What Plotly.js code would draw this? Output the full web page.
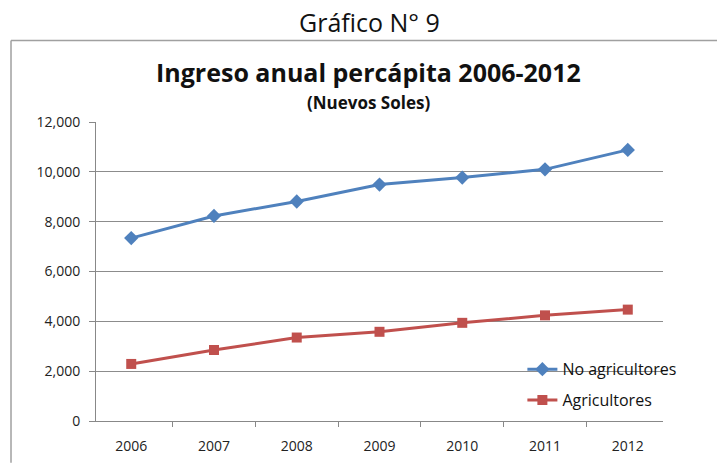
<!DOCTYPE html>
<html>
<head>
<meta charset="utf-8">
<script src="https://cdn.plot.ly/plotly-3.0.1.min.js"></script>
<style>html,body{margin:0;padding:0;background:#fff;overflow:hidden;}#chart{width:717px;height:465px;overflow:hidden;}</style>
</head>
<body>
<div id="chart"></div>
<script>
const years = ['2006','2007','2008','2009','2010','2011','2012'];
const noAgricultores = [7340, 8230, 8810, 9490, 9770, 10100, 10880];
const agricultores = [2290, 2850, 3350, 3580, 3940, 4240, 4470];
const yTicks = [0, 2000, 4000, 6000, 8000, 10000, 12000];
const yTickText = ['0', '2,000', '4,000', '6,000', '8,000', '10,000', '12,000'];

const font = 'Open Sans, Liberation Sans, Arial, sans-serif';

const traces = [
  {
    x: years, y: noAgricultores, name: 'No agricultores', type: 'scatter', mode: 'lines+markers',
    legendgroup: 'a',
    line: {color: '#4F81BD', width: 3},
    marker: {symbol: 'diamond', size: 11, color: '#4F81BD'}
  },
  {
    x: years, y: agricultores, name: 'Agricultores', type: 'scatter', mode: 'lines+markers',
    legendgroup: 'b',
    line: {color: '#C0504D', width: 3},
    marker: {symbol: 'square', size: 10, color: '#C0504D'}
  }
];

const layout = {
  width: 717, height: 465,
  margin: {l: 96, r: 54, t: 122, b: 44},
  paper_bgcolor: '#fff', plot_bgcolor: '#fff',
  font: {family: font, color: '#222', size: 14},
  showlegend: true,
  legend: {x: 0.752, y: 0.23, xanchor: 'left', yanchor: 'top', bgcolor: 'rgba(0,0,0,0)',
           font: {family: font, size: 16, color: '#111'}, traceorder: 'grouped', tracegroupgap: 7, itemwidth: 30},
  xaxis: {
    type: 'category', categoryorder: 'array', categoryarray: years,
    showgrid: false, zeroline: false,
    showline: true, linecolor: '#888', linewidth: 1,
    ticks: 'outside', tickson: 'boundaries', ticklen: 5, tickcolor: '#888',
    ticklabelstandoff: 12,
    tickfont: {family: font, size: 14, color: '#222'}, fixedrange: true
  },
  yaxis: {
    range: [0, 12000], tickvals: yTicks, ticktext: yTickText,
    showgrid: true, gridcolor: '#8c8c8c', gridwidth: 1, zeroline: false,
    showline: true, linecolor: '#888', linewidth: 1,
    ticks: 'outside', ticklen: 6, tickcolor: '#888',
    ticklabelstandoff: 6,
    tickfont: {family: font, size: 14, color: '#222'}, fixedrange: true
  },
  shapes: [
    {type: 'line', xref: 'paper', yref: 'paper', x0: -0.1499, x1: (717-96)/567, y0: 1.2726, y1: 1.2726,
     line: {color: '#a0a0a0', width: 1.5}, layer: 'below'},
    {type: 'line', xref: 'paper', yref: 'paper', x0: -0.1499, x1: -0.1499, y0: -0.14, y1: 1.2726,
     line: {color: '#a0a0a0', width: 1.5}, layer: 'below'}
  ],
  annotations: [
    {text: 'Gráfico N° 9', xref: 'paper', yref: 'paper', x: (369-96)/567, y: (421-22)/299,
     xanchor: 'center', yanchor: 'middle', showarrow: false,
     font: {family: font, size: 25, color: '#111'}},
    {text: '<b>Ingreso anual percápita 2006-2012</b>', xref: 'paper', yref: 'paper', x: (368-96)/567, y: (421-72)/299,
     xanchor: 'center', yanchor: 'middle', showarrow: false,
     font: {family: font, size: 25, color: '#111'}},
    {text: '<b>(Nuevos Soles)</b>', xref: 'paper', yref: 'paper', x: (368-96)/567, y: (421-102)/299,
     xanchor: 'center', yanchor: 'middle', showarrow: false,
     font: {family: font, size: 17, color: '#111'}}
  ]
};

Plotly.newPlot('chart', traces, layout, {displayModeBar: false, staticPlot: true});
</script>
</body>
</html>
